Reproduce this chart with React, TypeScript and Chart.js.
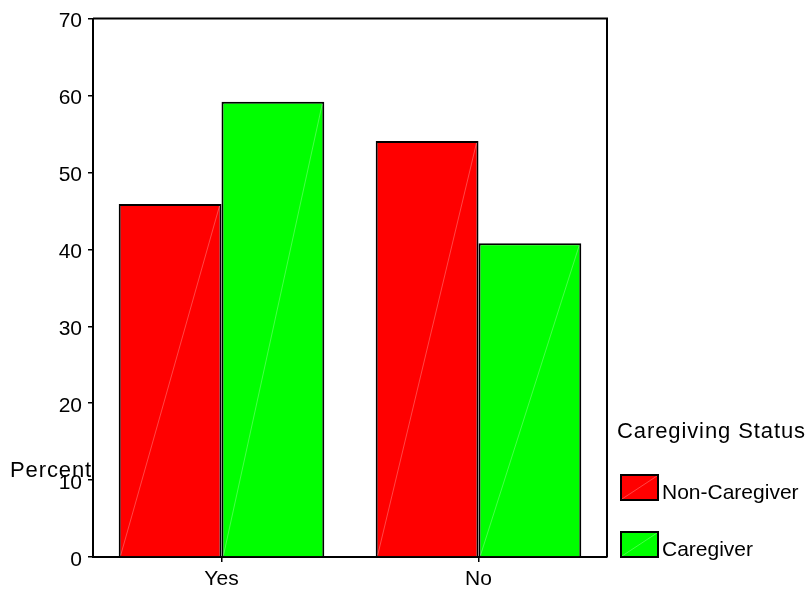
import React, { useEffect, useRef } from "react";
import { Chart, registerables } from "chart.js";

Chart.register(...registerables);

const categories = ["Yes", "No"];
const nonCaregiver = [45.9, 54.1];
const caregiver = [59.2, 40.8];
const seriesNames = ["Non-Caregiver", "Caregiver"];
const seriesColors = ["#FF0000", "#00FF00"];
const legendTitle = "Caregiving Status";
const yTitle = "Percent";
const yTicks = [0, 10, 20, 30, 40, 50, 60, 70];

const FONT = "Arial, 'Liberation Sans', sans-serif";

const decorPlugin = {
  id: "decor",
  afterDatasetsDraw(chart: any) {
    const ctx = chart.ctx;
    const a = chart.chartArea;
    ctx.save();
    chart.data.datasets.forEach((_: any, di: number) => {
      const meta = chart.getDatasetMeta(di);
      meta.data.forEach((bar: any) => {
        const p = bar.getProps(["x", "y", "base", "width"], true);
        const l = p.x - p.width / 2 + 2;
        const r = p.x + p.width / 2 - 2;
        ctx.strokeStyle = "rgba(255,255,255,0.35)";
        ctx.lineWidth = 0.8;
        ctx.beginPath();
        ctx.moveTo(l, p.base - 1);
        ctx.lineTo(r, p.y + 2);
        ctx.stroke();
      });
    });
    ctx.strokeStyle = "#000";
    ctx.lineWidth = 2;
    ctx.beginPath();
    ctx.moveTo(a.left, a.top);
    ctx.lineTo(a.right, a.top);
    ctx.lineTo(a.right, a.bottom);
    ctx.stroke();
    ctx.restore();
  },
  afterDraw(chart: any) {
    const ctx = chart.ctx;
    const a = chart.chartArea;
    ctx.save();
    ctx.fillStyle = "#000";
    ctx.textBaseline = "alphabetic";
    ctx.textAlign = "left";
    ctx.font = `22px ${FONT}`;
    (ctx as any).letterSpacing = "0.9px";
    ctx.fillText(yTitle, 10, 477);
    const lx = a.right + 10;
    ctx.fillText(legendTitle, lx, 438);
    (ctx as any).letterSpacing = "0px";
    ctx.font = `21px ${FONT}`;
    chart.data.datasets.forEach((ds: any, i: number) => {
      const top = 475 + i * 57;
      const bx = lx + 4;
      const bw = 37;
      const bh = 25;
      ctx.fillStyle = ds.backgroundColor;
      ctx.fillRect(bx, top, bw, bh);
      ctx.strokeStyle = "rgba(255,255,255,0.35)";
      ctx.lineWidth = 0.8;
      ctx.beginPath();
      ctx.moveTo(bx + 1, top + bh - 1);
      ctx.lineTo(bx + bw - 1, top + 1);
      ctx.stroke();
      ctx.strokeStyle = "#000";
      ctx.lineWidth = 2;
      ctx.strokeRect(bx, top, bw, bh);
      ctx.fillStyle = "#000";
      ctx.fillText(ds.label, bx + bw + 4, top + 24);
    });
    ctx.restore();
  },
};

export default function App() {
  const ref = useRef<HTMLCanvasElement>(null);
  useEffect(() => {
    document.body.style.margin = "0";
    const c = new Chart(ref.current!, {
      type: "bar",
      data: {
        labels: categories,
        datasets: [
          {
            label: seriesNames[0],
            data: nonCaregiver,
            backgroundColor: seriesColors[0],
            borderColor: "#000",
            borderWidth: 2,
            categoryPercentage: 0.8,
            barPercentage: 1.0,
          },
          {
            label: seriesNames[1],
            data: caregiver,
            backgroundColor: seriesColors[1],
            borderColor: "#000",
            borderWidth: 2,
            categoryPercentage: 0.8,
            barPercentage: 1.0,
          },
        ],
      },
      options: {
        animation: false,
        responsive: false,
        maintainAspectRatio: false,
        layout: { padding: { left: 0, top: 14, right: 200, bottom: 0 } },
        plugins: { legend: { display: false }, tooltip: { enabled: false } },
        scales: {
          x: {
            offset: true,
            grid: {
              offset: false,
              drawOnChartArea: false,
              drawTicks: true,
              tickLength: 5,
              color: "#000",
              lineWidth: 1.5,
            },
            border: { display: true, color: "#000", width: 2 },
            ticks: { color: "#000", font: { family: FONT, size: 21 }, padding: 5 },
            afterFit: (s: any) => {
              s.height = 36;
            },
          },
          y: {
            min: 0,
            max: 70,
            afterBuildTicks: (s: any) => {
              s.ticks = yTicks.map((v) => ({ value: v }));
            },
            grid: {
              drawOnChartArea: false,
              drawTicks: true,
              tickLength: 5,
              color: "#000",
              lineWidth: 1.5,
            },
            border: { display: true, color: "#000", width: 2 },
            ticks: {
              color: "#000",
              font: { family: FONT, size: 21 },
              padding: 6,
              labelOffset: 3,
            },
            afterFit: (s: any) => {
              s.width = 93;
            },
          },
        },
      },
      plugins: [decorPlugin],
    });
    return () => c.destroy();
  }, []);
  return <canvas ref={ref} width={807} height={593} style={{ display: "block" }} />;
}
